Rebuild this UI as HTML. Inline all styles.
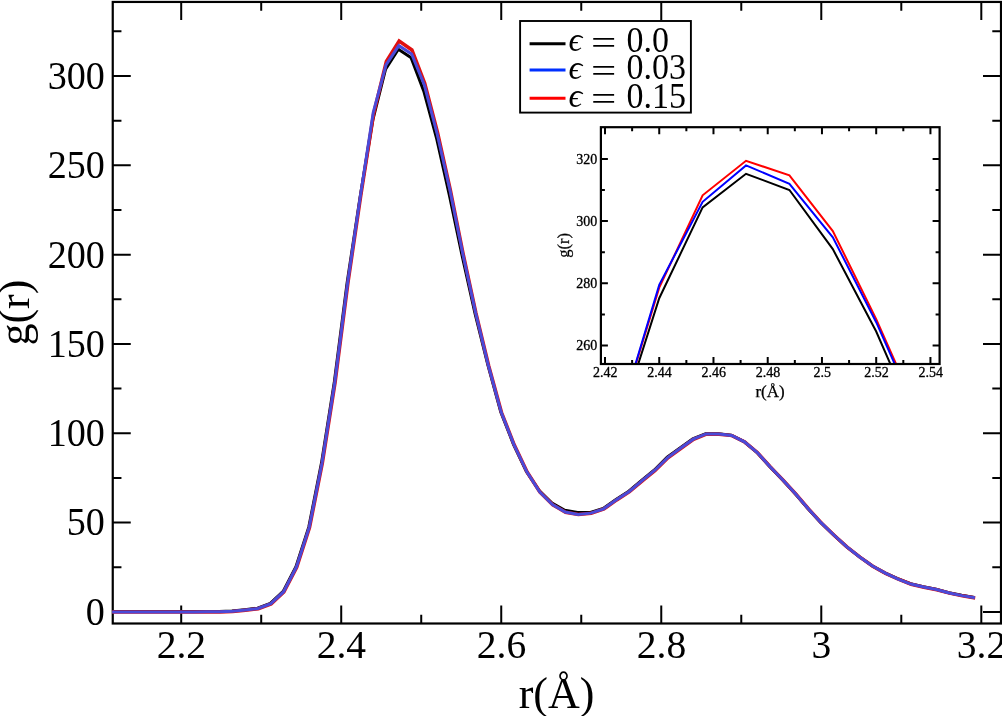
<!DOCTYPE html>
<html><head><meta charset="utf-8"><title>g(r)</title>
<style>html,body{margin:0;padding:0;background:#fff;overflow:hidden}svg{display:block}</style>
</head><body>
<svg width="1002" height="716" viewBox="0 0 1002 716">
<defs><clipPath id="cm"><rect x="112.15" y="1.95" width="888.25" height="621.55"/></clipPath><clipPath id="ci"><rect x="600.9" y="127.2" width="338.70000000000005" height="236.8"/></clipPath></defs>
<rect width="1002" height="716" fill="#fff"/>
<path d="M181.20 623.5V605.5M181.20 1.95V19.95M341.22 623.5V605.5M341.22 1.95V19.95M501.24 623.5V605.5M501.24 1.95V19.95M661.26 623.5V605.5M661.26 1.95V19.95M821.28 623.5V605.5M821.28 1.95V19.95M981.30 623.5V605.5M981.30 1.95V19.95M261.21 623.5V614.8M261.21 1.95V10.649999999999999M421.23 623.5V614.8M421.23 1.95V10.649999999999999M581.25 623.5V614.8M581.25 1.95V10.649999999999999M741.27 623.5V614.8M741.27 1.95V10.649999999999999M901.29 623.5V614.8M901.29 1.95V10.649999999999999M112.75 611.90H130.75M1001.0 611.90H983.0M112.75 522.59H130.75M1001.0 522.59H983.0M112.75 433.27H130.75M1001.0 433.27H983.0M112.75 343.95H130.75M1001.0 343.95H983.0M112.75 254.64H130.75M1001.0 254.64H983.0M112.75 165.32H130.75M1001.0 165.32H983.0M112.75 76.01H130.75M1001.0 76.01H983.0M112.75 567.24H121.45M1001.0 567.24H992.3M112.75 477.93H121.45M1001.0 477.93H992.3M112.75 388.61H121.45M1001.0 388.61H992.3M112.75 299.30H121.45M1001.0 299.30H992.3M112.75 209.98H121.45M1001.0 209.98H992.3M112.75 120.67H121.45M1001.0 120.67H992.3M112.75 31.35H121.45M1001.0 31.35H992.3" stroke="#000" stroke-width="2" fill="none"/>
<rect x="112.75" y="1.95" width="888.25" height="621.55" fill="none" stroke="#000" stroke-width="2.2"/>
<g clip-path="url(#cm)" fill="none" stroke-width="3.0" stroke-linejoin="miter" stroke-miterlimit="4">
<polyline stroke="#000" transform="translate(-0.45 -0.3)" points="65.99,611.90 78.79,611.90 91.59,611.90 104.39,611.90 117.19,611.90 129.99,611.90 142.80,611.90 155.60,611.90 168.40,611.90 181.20,611.90 194.00,611.90 206.80,611.81 219.60,611.72 232.41,611.36 245.21,609.94 258.01,608.51 270.81,603.68 283.61,591.71 296.41,567.06 309.22,527.41 322.02,462.92 334.82,382.00 347.62,282.86 360.42,198.37 373.22,120.31 386.03,69.40 398.83,49.57 411.63,58.15 424.43,92.09 437.23,139.42 450.03,196.59 462.84,257.32 475.64,314.48 488.44,365.75 501.24,412.37 514.04,444.88 526.84,471.85 539.64,490.79 552.45,503.29 565.25,510.62 578.05,512.76 590.85,512.76 603.65,508.83 616.45,499.72 629.26,491.50 642.06,480.61 654.86,470.25 667.66,457.56 680.46,448.27 693.26,439.16 706.07,433.98 718.87,433.98 731.67,435.41 744.47,441.84 757.27,452.56 770.07,466.67 782.88,480.07 795.68,494.00 808.48,509.01 821.28,522.94 834.08,535.27 846.88,546.88 859.68,556.97 872.49,565.99 885.29,573.14 898.09,579.03 910.89,584.03 923.69,587.07 936.49,589.57 949.30,592.97 962.10,595.64 974.90,597.70"/>
<polyline stroke="#e01010" stroke-width="3.5" transform="translate(0.3 0.2)" points="65.99,611.90 78.79,611.90 91.59,611.90 104.39,611.90 117.19,611.90 129.99,611.90 142.80,611.90 155.60,611.90 168.40,611.90 181.20,611.90 194.00,611.90 206.80,611.81 219.60,611.72 232.41,611.36 245.21,609.94 258.01,608.51 270.81,603.68 283.61,591.71 296.41,567.06 309.22,527.41 322.02,462.92 334.82,382.00 347.62,282.86 360.42,195.69 373.22,114.24 386.03,61.18 398.83,40.82 411.63,49.75 424.43,83.16 437.23,132.28 450.03,189.80 462.84,253.57 475.64,312.87 488.44,365.75 501.24,412.37 514.04,444.88 526.84,471.85 539.64,491.86 552.45,504.54 565.25,512.05 578.05,514.37 590.85,513.12 603.65,508.83 616.45,499.72 629.26,491.50 642.06,480.61 654.86,470.25 667.66,457.56 680.46,448.27 693.26,439.16 706.07,433.98 718.87,433.98 731.67,435.41 744.47,441.84 757.27,452.56 770.07,466.67 782.88,480.07 795.68,494.00 808.48,509.01 821.28,522.94 834.08,535.27 846.88,546.88 859.68,556.97 872.49,565.99 885.29,573.14 898.09,579.03 910.89,584.03 923.69,587.07 936.49,589.57 949.30,592.97 962.10,595.64 974.90,597.70"/>
<polyline stroke="#4a4ad8" stroke-width="3.0" points="65.99,611.90 78.79,611.90 91.59,611.90 104.39,611.90 117.19,611.90 129.99,611.90 142.80,611.90 155.60,611.90 168.40,611.90 181.20,611.90 194.00,611.90 206.80,611.81 219.60,611.72 232.41,611.36 245.21,609.94 258.01,608.51 270.81,603.68 283.61,591.71 296.41,567.06 309.22,527.41 322.02,462.92 334.82,382.00 347.62,282.86 360.42,195.69 373.22,112.63 386.03,64.93 398.83,45.64 411.63,54.04 424.43,85.30 437.23,134.06 450.03,190.33 462.84,253.93 475.64,312.87 488.44,365.75 501.24,412.37 514.04,444.88 526.84,471.85 539.64,491.86 552.45,504.54 565.25,512.05 578.05,514.37 590.85,513.12 603.65,508.83 616.45,499.72 629.26,491.50 642.06,480.61 654.86,470.25 667.66,457.56 680.46,448.27 693.26,439.16 706.07,433.98 718.87,433.98 731.67,435.41 744.47,441.84 757.27,452.56 770.07,466.67 782.88,480.07 795.68,494.00 808.48,509.01 821.28,522.94 834.08,535.27 846.88,546.88 859.68,556.97 872.49,565.99 885.29,573.14 898.09,579.03 910.89,584.03 923.69,587.07 936.49,589.57 949.30,592.97 962.10,595.64 974.90,597.70"/>
</g>
<g style="font-family:'Liberation Serif',serif;font-size:39.5px" fill="#000">
<text transform="translate(104.9 624.80) scale(0.965 1)" text-anchor="end">0</text>
<text transform="translate(104.9 535.49) scale(0.965 1)" text-anchor="end">50</text>
<text transform="translate(104.9 446.17) scale(0.965 1)" text-anchor="end">100</text>
<text transform="translate(104.9 356.85) scale(0.965 1)" text-anchor="end">150</text>
<text transform="translate(104.9 267.54) scale(0.965 1)" text-anchor="end">200</text>
<text transform="translate(104.9 178.22) scale(0.965 1)" text-anchor="end">250</text>
<text transform="translate(104.9 88.91) scale(0.965 1)" text-anchor="end">300</text>
<text x="181.40" y="657.8" text-anchor="middle">2.2</text>
<text x="341.42" y="657.8" text-anchor="middle">2.4</text>
<text x="501.44" y="657.8" text-anchor="middle">2.6</text>
<text x="661.46" y="657.8" text-anchor="middle">2.8</text>
<text x="821.48" y="657.8" text-anchor="middle">3</text>
<text x="981.50" y="657.8" text-anchor="middle">3.2</text>
</g>
<text transform="translate(28.6 312.6) rotate(-90)" text-anchor="middle" style="font-family:'Liberation Serif',serif;font-size:44px">g(r)</text>
<text x="556.6" y="708.0" text-anchor="middle" style="font-family:'Liberation Serif',serif;font-size:44px">r(Å)</text>
<rect x="520.1" y="21.0" width="170.8" height="91.6" fill="#fff" stroke="#000" stroke-width="1.9"/>
<line x1="529.6" x2="565.5" y1="43.7" y2="43.7" stroke="#000" stroke-width="3"/>
<text x="568.5" y="51.2" style="font-family:'Liberation Serif',serif;font-size:34px;font-style:italic">ϵ</text>
<text transform="translate(591 53.8) scale(1.36 1)" style="font-family:'Liberation Serif',serif;font-size:33px">=</text>
<text transform="translate(626.5 51.6) scale(1 1.07)" style="font-family:'Liberation Serif',serif;font-size:34px">0.0</text>
<line x1="529.6" x2="565.5" y1="70.0" y2="70.0" stroke="#0030ff" stroke-width="3"/>
<text x="568.5" y="79.0" style="font-family:'Liberation Serif',serif;font-size:34px;font-style:italic">ϵ</text>
<text transform="translate(591 81.8) scale(1.36 1)" style="font-family:'Liberation Serif',serif;font-size:33px">=</text>
<text transform="translate(626.5 79.4) scale(1 1.07)" style="font-family:'Liberation Serif',serif;font-size:34px">0.03</text>
<line x1="529.6" x2="565.5" y1="98.2" y2="98.2" stroke="#ff0000" stroke-width="3"/>
<text x="568.5" y="107.1" style="font-family:'Liberation Serif',serif;font-size:34px;font-style:italic">ϵ</text>
<text transform="translate(591 109.9) scale(1.36 1)" style="font-family:'Liberation Serif',serif;font-size:33px">=</text>
<text transform="translate(626.5 107.5) scale(1 1.07)" style="font-family:'Liberation Serif',serif;font-size:34px">0.15</text>
<rect x="600.9" y="127.2" width="338.70000000000005" height="236.8" fill="#fff" stroke="none"/>
<g clip-path="url(#ci)" fill="none" stroke-width="2">
<polyline stroke="#f00" points="-382.17,1154.10 -338.78,1154.10 -295.38,1154.10 -251.99,1154.10 -208.60,1154.10 -165.21,1154.10 -121.82,1154.10 -78.42,1154.10 -35.03,1154.10 8.36,1154.10 51.75,1154.10 95.14,1153.94 138.54,1153.79 181.93,1153.17 225.32,1150.68 268.71,1148.19 312.10,1139.79 355.50,1118.96 398.89,1076.04 442.28,1007.00 485.67,894.73 529.06,753.84 572.46,581.24 615.85,429.47 659.24,287.65 702.63,195.29 746.02,160.77 789.42,175.38 832.81,231.05 876.20,319.06 919.59,417.03 962.98,528.37 1006.38,633.49 1049.77,725.54 1093.16,806.71 1136.55,863.31 1179.94,910.28 1223.34,945.11 1266.73,967.19 1310.12,980.25 1353.51,984.29 1396.90,982.12 1440.30,974.65 1483.69,958.79 1527.08,944.49 1570.47,925.51 1613.86,907.48 1657.26,885.40 1700.65,869.22 1744.04,853.36 1787.43,844.34 1830.82,844.34 1874.22,846.83 1917.61,858.03 1961.00,876.69 2004.39,901.26 2047.78,924.58 2091.18,948.84 2134.57,973.72 2177.96,996.73 2221.35,1018.19 2264.74,1038.72 2308.14,1055.20 2351.53,1072.93 2394.92,1086.61 2438.31,1096.88 2481.70,1105.58 2525.10,1110.87 2568.49,1115.22 2611.88,1119.89 2655.27,1124.56 2698.66,1129.38"/>
<polyline stroke="#000" points="-382.17,1154.10 -338.78,1154.10 -295.38,1154.10 -251.99,1154.10 -208.60,1154.10 -165.21,1154.10 -121.82,1154.10 -78.42,1154.10 -35.03,1154.10 8.36,1154.10 51.75,1154.10 95.14,1153.94 138.54,1153.79 181.93,1153.17 225.32,1150.68 268.71,1148.19 312.10,1139.79 355.50,1118.96 398.89,1076.04 442.28,1007.00 485.67,894.73 529.06,753.84 572.46,581.24 615.85,434.13 659.24,298.23 702.63,207.42 746.02,173.83 789.42,190.00 832.81,249.09 876.20,331.50 919.59,431.02 962.98,536.76 1006.38,636.28 1049.77,725.54 1093.16,806.71 1136.55,863.31 1179.94,910.28 1223.34,943.24 1266.73,965.01 1310.12,977.76 1353.51,981.49 1396.90,981.49 1440.30,974.65 1483.69,958.79 1527.08,944.49 1570.47,925.51 1613.86,907.48 1657.26,885.40 1700.65,869.22 1744.04,853.36 1787.43,844.34 1830.82,844.34 1874.22,846.83 1917.61,858.03 1961.00,876.69 2004.39,901.26 2047.78,924.58 2091.18,948.84 2134.57,973.72 2177.96,996.73 2221.35,1018.19 2264.74,1038.72 2308.14,1055.20 2351.53,1072.93 2394.92,1086.61 2438.31,1096.88 2481.70,1105.58 2525.10,1110.87 2568.49,1115.22 2611.88,1119.89 2655.27,1124.56 2698.66,1129.38"/>
<polyline stroke="#00f" points="-382.17,1154.10 -338.78,1154.10 -295.38,1154.10 -251.99,1154.10 -208.60,1154.10 -165.21,1154.10 -121.82,1154.10 -78.42,1154.10 -35.03,1154.10 8.36,1154.10 51.75,1154.10 95.14,1153.94 138.54,1153.79 181.93,1153.17 225.32,1150.68 268.71,1148.19 312.10,1139.79 355.50,1118.96 398.89,1076.04 442.28,1007.00 485.67,894.73 529.06,753.84 572.46,581.24 615.85,429.47 659.24,284.86 702.63,201.82 746.02,165.43 789.42,183.78 832.81,237.27 876.20,322.18 919.59,420.14 962.98,530.86 1006.38,633.49 1049.77,725.54 1093.16,806.71 1136.55,863.31 1179.94,910.28 1223.34,945.11 1266.73,967.19 1310.12,980.25 1353.51,984.29 1396.90,982.12 1440.30,974.65 1483.69,958.79 1527.08,944.49 1570.47,925.51 1613.86,907.48 1657.26,885.40 1700.65,869.22 1744.04,853.36 1787.43,844.34 1830.82,844.34 1874.22,846.83 1917.61,858.03 1961.00,876.69 2004.39,901.26 2047.78,924.58 2091.18,948.84 2134.57,973.72 2177.96,996.73 2221.35,1018.19 2264.74,1038.72 2308.14,1055.20 2351.53,1072.93 2394.92,1086.61 2438.31,1096.88 2481.70,1105.58 2525.10,1110.87 2568.49,1115.22 2611.88,1119.89 2655.27,1124.56 2698.66,1129.38"/>
</g>
<path d="M605.00 364.0V357.0M605.00 127.2V134.2M659.24 364.0V357.0M659.24 127.2V134.2M713.48 364.0V357.0M713.48 127.2V134.2M767.72 364.0V357.0M767.72 127.2V134.2M821.96 364.0V357.0M821.96 127.2V134.2M876.20 364.0V357.0M876.20 127.2V134.2M930.44 364.0V357.0M930.44 127.2V134.2M632.12 364.0V360.0M632.12 127.2V131.2M686.36 364.0V360.0M686.36 127.2V131.2M740.60 364.0V360.0M740.60 127.2V131.2M794.84 364.0V360.0M794.84 127.2V131.2M849.08 364.0V360.0M849.08 127.2V131.2M903.32 364.0V360.0M903.32 127.2V131.2M600.9 345.50H607.9M939.6 345.50H932.6M600.9 283.30H607.9M939.6 283.30H932.6M600.9 221.10H607.9M939.6 221.10H932.6M600.9 158.90H607.9M939.6 158.90H932.6M600.9 314.40H604.9M939.6 314.40H935.6M600.9 252.20H604.9M939.6 252.20H935.6M600.9 190.00H604.9M939.6 190.00H935.6" stroke="#000" stroke-width="2.0" fill="none"/>
<rect x="600.9" y="127.2" width="338.70000000000005" height="236.8" fill="none" stroke="#000" stroke-width="2.2"/>
<g style="font-family:'Liberation Serif',serif;font-size:14px" fill="#000" stroke="#000" stroke-width="0.3">
<text x="597.2" y="350.20" text-anchor="end">260</text>
<text x="597.2" y="288.00" text-anchor="end">280</text>
<text x="597.2" y="225.80" text-anchor="end">300</text>
<text x="597.2" y="163.60" text-anchor="end">320</text>
<text x="605.30" y="377.3" text-anchor="middle">2.42</text>
<text x="659.54" y="377.3" text-anchor="middle">2.44</text>
<text x="713.78" y="377.3" text-anchor="middle">2.46</text>
<text x="768.02" y="377.3" text-anchor="middle">2.48</text>
<text x="822.26" y="377.3" text-anchor="middle">2.5</text>
<text x="876.50" y="377.3" text-anchor="middle">2.52</text>
<text x="930.74" y="377.3" text-anchor="middle">2.54</text>
</g>
<text transform="translate(569 245.3) rotate(-90)" text-anchor="middle" stroke="#000" stroke-width="0.25" style="font-family:'Liberation Serif',serif;font-size:16.5px">g(r)</text>
<text x="770.1" y="396.9" text-anchor="middle" stroke="#000" stroke-width="0.25" style="font-family:'Liberation Serif',serif;font-size:17px">r(Å)</text>
</svg>
</body></html>
